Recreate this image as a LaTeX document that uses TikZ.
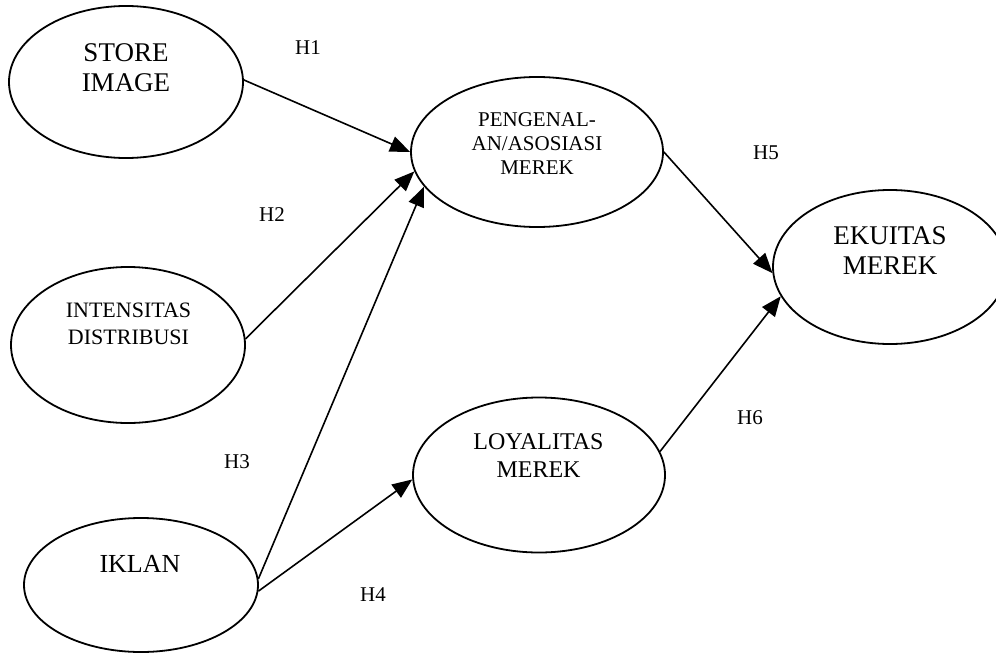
\documentclass[tikz,border=0pt]{standalone}
\usepackage{fontspec}
\setmainfont{Liberation Serif}
\usetikzlibrary{shapes.geometric,arrows.meta}
\tikzset{
  ell/.style={draw, ellipse, line width=1.8pt, inner sep=0pt},
  lbl/.style={inner sep=0pt, align=center},
  hyp/.style={inner sep=0pt, font=\fontsize{21}{24}\selectfont},
  conn/.style={line width=1.6pt, -{Triangle[length=20pt,width=16pt]}}
}
\begin{document}
\begin{tikzpicture}[x=1pt,y=-1pt]
\useasboundingbox (0,0) rectangle (996,653);
\fill[white] (0,0) rectangle (996,653);
\clip (0,0) rectangle (996,653);

% ellipses
\node[ell, minimum width=234pt, minimum height=152pt] (si) at (126,82) {};
\node[ell, minimum width=234pt, minimum height=156pt] (id) at (128,345) {};
\node[ell, minimum width=234pt, minimum height=134pt] (ik) at (141,585) {};
\node[ell, minimum width=252pt, minimum height=150pt] (pa) at (537,152) {};
\node[ell, minimum width=252pt, minimum height=155pt] (lm) at (539,475) {};
\node[ell, minimum width=234pt, minimum height=154pt] (em) at (890,267) {};

% texts
\node[lbl, font=\fontsize{27}{30}\selectfont] (si-t) at (126,67.5) {STORE\\IMAGE};
\node[lbl, font=\fontsize{22}{27}\selectfont] (id-t) at (128.5,323.5) {INTENSITAS\\DISTRIBUSI};
\node[lbl, font=\fontsize{26}{30}\selectfont] (ik-t) at (140,563.5) {IKLAN};
\node[lbl, font=\fontsize{21}{24}\selectfont] (pa-t) at (537,144) {PENGENAL-\\AN/ASOSIASI\\MEREK};
\node[lbl, font=\fontsize{24}{28}\selectfont] (lm-t) at (538.5,455.5) {LOYALITAS\\MEREK};
\node[lbl, font=\fontsize{27}{30}\selectfont] (em-t) at (890,251) {EKUITAS\\MEREK};

% hypothesis labels
\node[hyp] (h1) at (308,48) {H1};
\node[hyp] (h2) at (272,215) {H2};
\node[hyp] (h3) at (237,462) {H3};
\node[hyp] (h4) at (373,595) {H4};
\node[hyp] (h5) at (766,153) {H5};
\node[hyp] (h6) at (750,418) {H6};

% connectors
\draw[conn] (si.1) -- (pa.west);
\draw[conn] (id.3) -- (pa.189);
\draw[conn] (ik.3) -- (pa.197);
\draw[conn] (ik.-3) -- (lm.182);
\draw[conn] (pa.east) -- (em.183);
\draw[conn] (lm.11) -- (em.195);
\end{tikzpicture}
\end{document}
